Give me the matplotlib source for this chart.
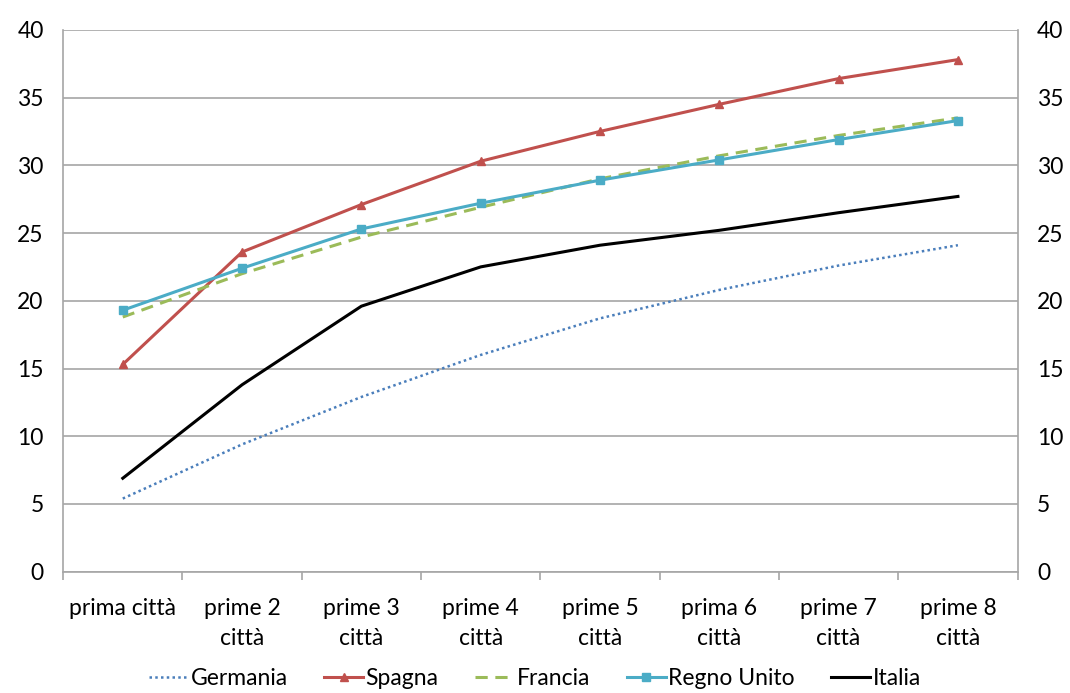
import matplotlib.pyplot as plt
import numpy as np

plt.rcParams['font.family'] = ['Lato', 'DejaVu Sans']

categorie = ['prima città', 'prime 2\ncittà', 'prime 3\ncittà', 'prime 4\ncittà',
             'prime 5\ncittà', 'prima 6\ncittà', 'prime 7\ncittà', 'prime 8\ncittà']

germania = [5.4, 9.4, 12.9, 16.0, 18.7, 20.8, 22.6, 24.1]
spagna = [15.3, 23.6, 27.1, 30.3, 32.5, 34.5, 36.4, 37.8]
francia = [18.8, 22.0, 24.7, 26.9, 29.0, 30.7, 32.2, 33.5]
regno_unito = [19.3, 22.4, 25.3, 27.2, 28.9, 30.4, 31.9, 33.3]
italia = [6.9, 13.8, 19.6, 22.5, 24.1, 25.2, 26.5, 27.7]

x = np.arange(len(categorie))

fig = plt.figure(figsize=(10.7, 6.93), dpi=100)
ax = fig.add_axes([0.059, 0.175, 0.892, 0.782])

ax.plot(x, germania, color='#4a7ebb', lw=1.8, ls=(0, (1, 1.3)), label='Germania')
ax.plot(x, spagna, color='#c0504d', lw=2.2, marker='^', ms=6, label='Spagna')
ax.plot(x, francia, color='#9bbb59', lw=2.2, ls=(0, (4, 2.5)), label='Francia')
ax.plot(x, regno_unito, color='#4bacc6', lw=2.2, marker='s', ms=6, label='Regno Unito')
ax.plot(x, italia, color='black', lw=2.2, label='Italia')

ax.set_xlim(-0.5, len(categorie) - 0.5)
ax.set_ylim(0, 40)
ax.set_yticks(np.arange(0, 41, 5))
ax.yaxis.grid(True, color='#a6a6a6', lw=1.2)
ax.set_axisbelow(True)
ax.tick_params(axis='y', length=0, labelsize=16.5, pad=14, right=True, labelright=True)

ax.set_xticks(x)
ax.set_xticklabels(categorie, fontsize=16.5, linespacing=1.5)
ax.tick_params(axis='x', length=0, pad=19)
ax.set_xticks(np.arange(-0.5, len(categorie)), minor=True)
ax.tick_params(axis='x', which='minor', length=6, color='#a6a6a6', width=1.2)

ax.spines['top'].set_visible(False)
for side in ['left', 'right', 'bottom']:
    ax.spines[side].set_color('#a6a6a6')
    ax.spines[side].set_linewidth(1.2)

fig.legend(loc='lower center', ncol=5, frameon=False, fontsize=16.5,
           bbox_to_anchor=(0.5, -0.024), handlelength=1.7, handletextpad=0.1,
           columnspacing=1.6)

fig.savefig('out.png', dpi=100)
